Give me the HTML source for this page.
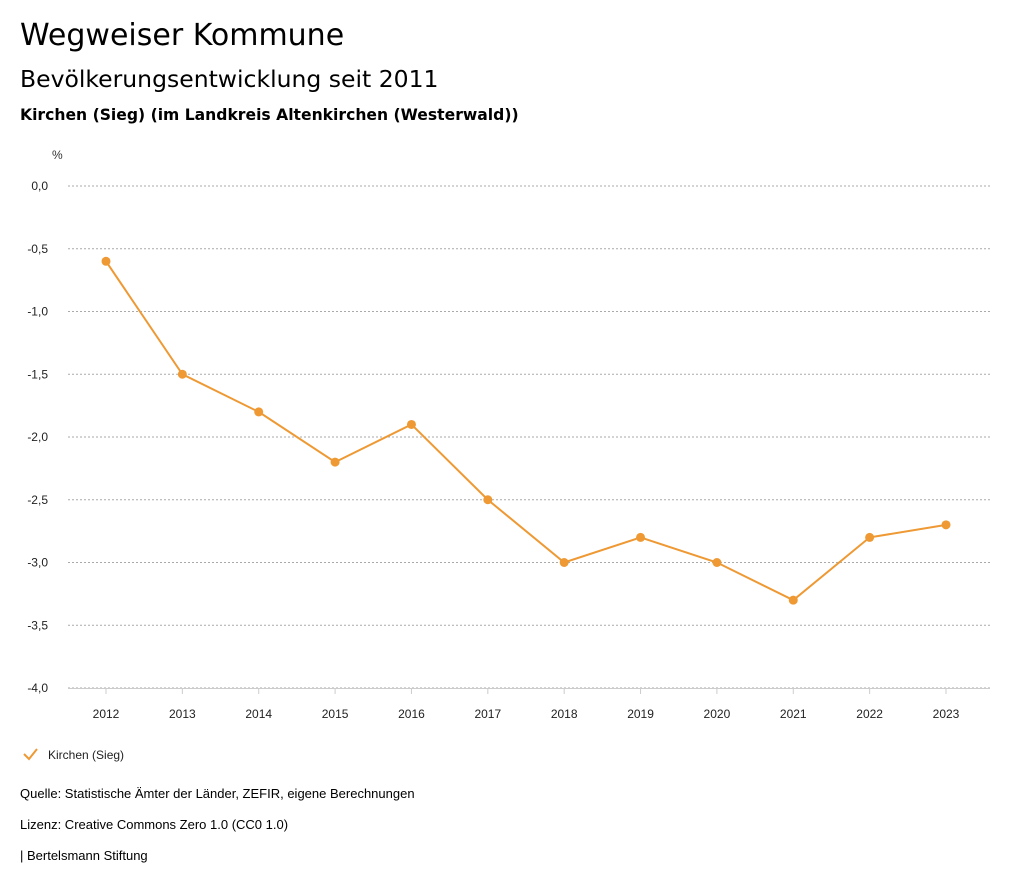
<!DOCTYPE html>
<html><head><meta charset="utf-8">
<style>
body{margin:0;background:#fff;width:1024px;height:888px;overflow:hidden;font-family:"Liberation Sans",sans-serif;color:#000}
.t{position:absolute;left:20px;white-space:nowrap}
.d{font-family:"DejaVu Sans",sans-serif}
</style></head>
<body>
<div class="t d" style="top:18px;font-size:30px;">Wegweiser Kommune</div>
<div class="t d" style="top:65px;font-size:23.5px;">Bevölkerungsentwicklung seit 2011</div>
<div class="t d" style="top:106px;font-size:15.6px;font-weight:bold;">Kirchen (Sieg) (im Landkreis Altenkirchen (Westerwald))</div>
<svg id="chart" width="1024" height="888" style="position:absolute;left:0;top:0" font-family="Liberation Sans, sans-serif"></svg>
<div class="t" style="top:786px;font-size:13px;">Quelle: Statistische Ämter der Länder, ZEFIR, eigene Berechnungen</div>
<div class="t" style="top:817px;font-size:13px;">Lizenz: Creative Commons Zero 1.0 (CC0 1.0)</div>
<div class="t" style="top:848px;font-size:13px;">| Bertelsmann Stiftung</div>
<script>
const years=[2012,2013,2014,2015,2016,2017,2018,2019,2020,2021,2022,2023];
const values=[-0.6,-1.5,-1.8,-2.2,-1.9,-2.5,-3.0,-2.8,-3.0,-3.3,-2.8,-2.7];
const yTicks=[0,-0.5,-1,-1.5,-2,-2.5,-3,-3.5,-4];
const yTickLabels=["0,0","-0,5","-1,0","-1,5","-2,0","-2,5","-3,0","-3,5","-4,0"];
const ns="http://www.w3.org/2000/svg";
const svg=document.getElementById('chart');
const X=y=>106+(y-2012)*(946-106)/11;
const Y=v=>186+(0-v)*(688-186)/4;
function mk(t,a){const e=document.createElementNS(ns,t);for(const k in a)e.setAttribute(k,a[k]);svg.appendChild(e);return e;}
let u=mk('text',{x:52,y:159,'font-size':12,fill:'#333'});u.textContent='%';


yTicks.forEach((v,i)=>{
 const l=mk('line',{x1:68,x2:990,y1:Y(v),y2:Y(v),stroke:'#aaa','stroke-dasharray':'2,2'});
 
 
 const t=mk('text',{x:48,y:Y(v)+4,'font-size':12,'text-anchor':'end',fill:'#222'});t.textContent=yTickLabels[i];
 
 
});
const ax=mk('line',{x1:68,x2:990,y1:688.5,y2:688.5,stroke:'#ccc'});


years.forEach(y=>{
 const tk=mk('line',{x1:X(y),x2:X(y),y1:688,y2:694,stroke:'#ccc'});
 
 
 const t=mk('text',{x:X(y),y:718,'font-size':12,'text-anchor':'middle',fill:'#222'});t.textContent=y;
 
 
});
const p=mk('polyline',{points:years.map((y,i)=>X(y)+','+Y(values[i])).join(' '),fill:'none',stroke:'#ee9933','stroke-width':2});


years.forEach((y,i)=>{
 const c=mk('circle',{cx:X(y),cy:Y(values[i]),r:4.5,fill:'#ee9933'});
 
 
});
const lg=mk('polyline',{points:'24,754 29,759 37,749',fill:'none',stroke:'#ee9933','stroke-width':2});


const lt=mk('text',{x:48,y:759,'font-size':12,fill:'#222'});lt.textContent='Kirchen (Sieg)';


</script>
</body></html>
